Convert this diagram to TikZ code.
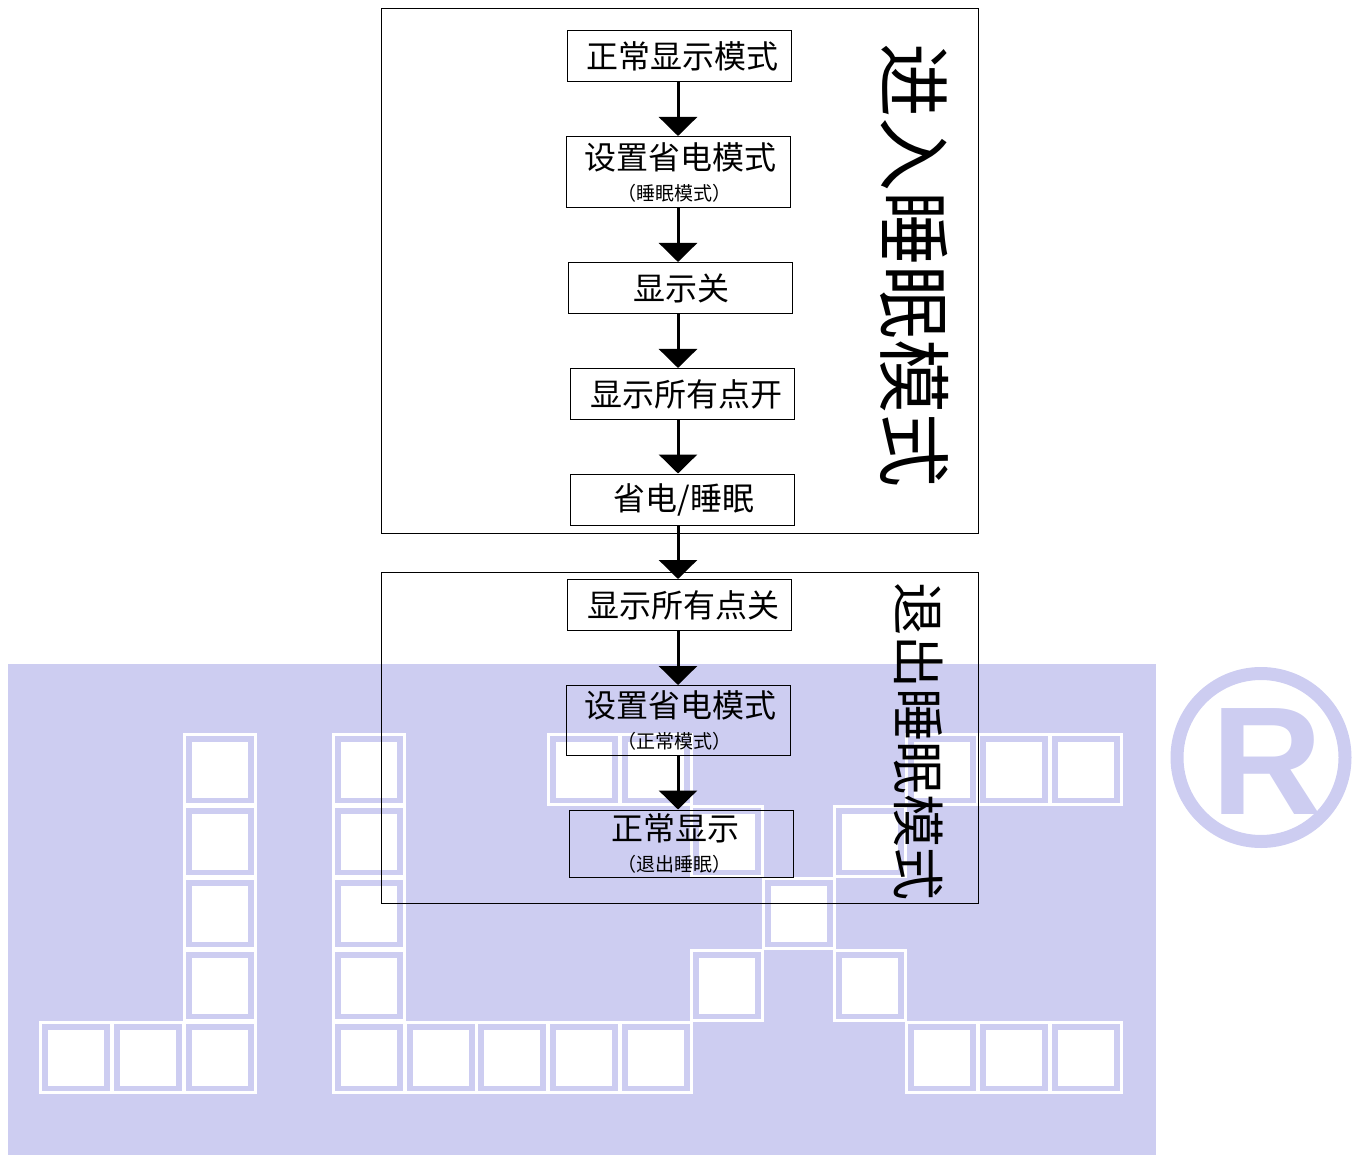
\documentclass[tikz,border=0pt]{standalone}
\usepackage{fontspec}
\usetikzlibrary{arrows.meta}
\newfontfamily\cjk{Noto Sans CJK SC}
\setmainfont{Liberation Sans}
\definecolor{wm}{HTML}{CDCDF1}
\newcommand{\fs}[1]{\fontsize{#1}{#1}\selectfont}
\tikzset{
  panel/.style={draw=black,line width=1pt,inner sep=0pt},
  stepbox/.style={draw=black,line width=1pt,inner sep=0pt,align=center,font=\cjk\fs{32}},
  flow/.style={line width=3pt,-{Triangle[length=19pt,width=38pt]}},
  side/.style={inner sep=0pt,rotate=-90,font=\cjk},
  cellline/.style={draw=white,fill=wm,line width=3pt},
}
\begin{document}
\begin{tikzpicture}[x=1pt,y=-1pt]
\useasboundingbox (0,0) rectangle (1363,1155);
% watermark
\fill[wm] (8,664) rectangle (1156,1155);
\foreach \x/\y in {183/733,183/805,183/877,183/949,183/1021,39/1021,111/1021,
  332/733,332/805,332/877,332/949,332/1021,404/1021,475/1021,547/1021,619/1021,
  547/733,619/733,905/733,977/733,1049/733,
  690/805,833/805,762/877,690/949,833/949,905/1021,977/1021,1049/1021}{
  \draw[cellline] (\x+1.5,\y+1.5) rectangle (\x+72,\y+71);
  \fill[white] (\x+8.5,\y+9) rectangle (\x+64.5,\y+65);
}
\node[circle,draw=wm,line width=13pt,minimum size=168pt,inner sep=0pt] (ring) at (1261,757.5) {};
\node[text=wm,inner sep=0pt,font=\bfseries\fs{154}] (reg) at (1267,762) {R};
% panels
\node[panel,minimum width=597pt,minimum height=525pt] (top) at (679.5,271) {};
\node[panel,minimum width=597pt,minimum height=331pt] (bot) at (679.5,738) {};
% steps
\node[stepbox,minimum width=224pt,minimum height=51pt] (n1) at (679.5,56) {\hspace*{6pt}正常显示模式};
\node[stepbox,minimum width=224pt,minimum height=71pt] (n2) at (678,172) {\hspace*{4pt}设置省电模式\\[-1pt]{\fs{19}\hspace*{-8pt}（睡眠模式）}};
\node[stepbox,minimum width=224pt,minimum height=51pt] (n3) at (680.5,288) {\hspace*{2pt}显示关};
\node[stepbox,minimum width=224pt,minimum height=51pt] (n4) at (682,394) {\hspace*{9pt}显示所有点开};
\node[stepbox,minimum width=224pt,minimum height=51pt] (n5) at (682,499.5) {\hspace*{4pt}省电/睡眠};
\node[stepbox,minimum width=224pt,minimum height=51pt] (n6) at (679.5,605) {\hspace*{8pt}显示所有点关};
\node[stepbox,minimum width=224pt,minimum height=70pt] (n7) at (678,720.5) {\hspace*{4pt}设置省电模式\\[-1pt]{\fs{19}\hspace*{-8pt}（正常模式）}};
\node[stepbox,minimum width=224pt,minimum height=67pt] (n8) at (681.5,843.5) {\hspace*{-12pt}正常显示\\[-1pt]{\fs{19}\hspace*{-14pt}（退出睡眠）}};
% side labels
\node[side,font=\cjk\fs{74}] (tl) at (914,266) {进入睡眠模式};
\node[side,font=\cjk\fs{53}] (bl) at (919,741.5) {退出睡眠模式};
% connectors
\coordinate (ax) at (678,0);
\draw[flow] (n1.south -| ax) -- (n2.north -| ax);
\draw[flow] (n2.south -| ax) -- (n3.north -| ax);
\draw[flow] (n3.south -| ax) -- (n4.north -| ax);
\draw[flow] (n4.south -| ax) -- (n5.north -| ax);
\draw[flow] (n5.south -| ax) -- (n6.north -| ax);
\draw[flow] (n6.south -| ax) -- (n7.north -| ax);
\draw[flow] (n7.south -| ax) -- (n8.north -| ax);
\end{tikzpicture}
\end{document}
